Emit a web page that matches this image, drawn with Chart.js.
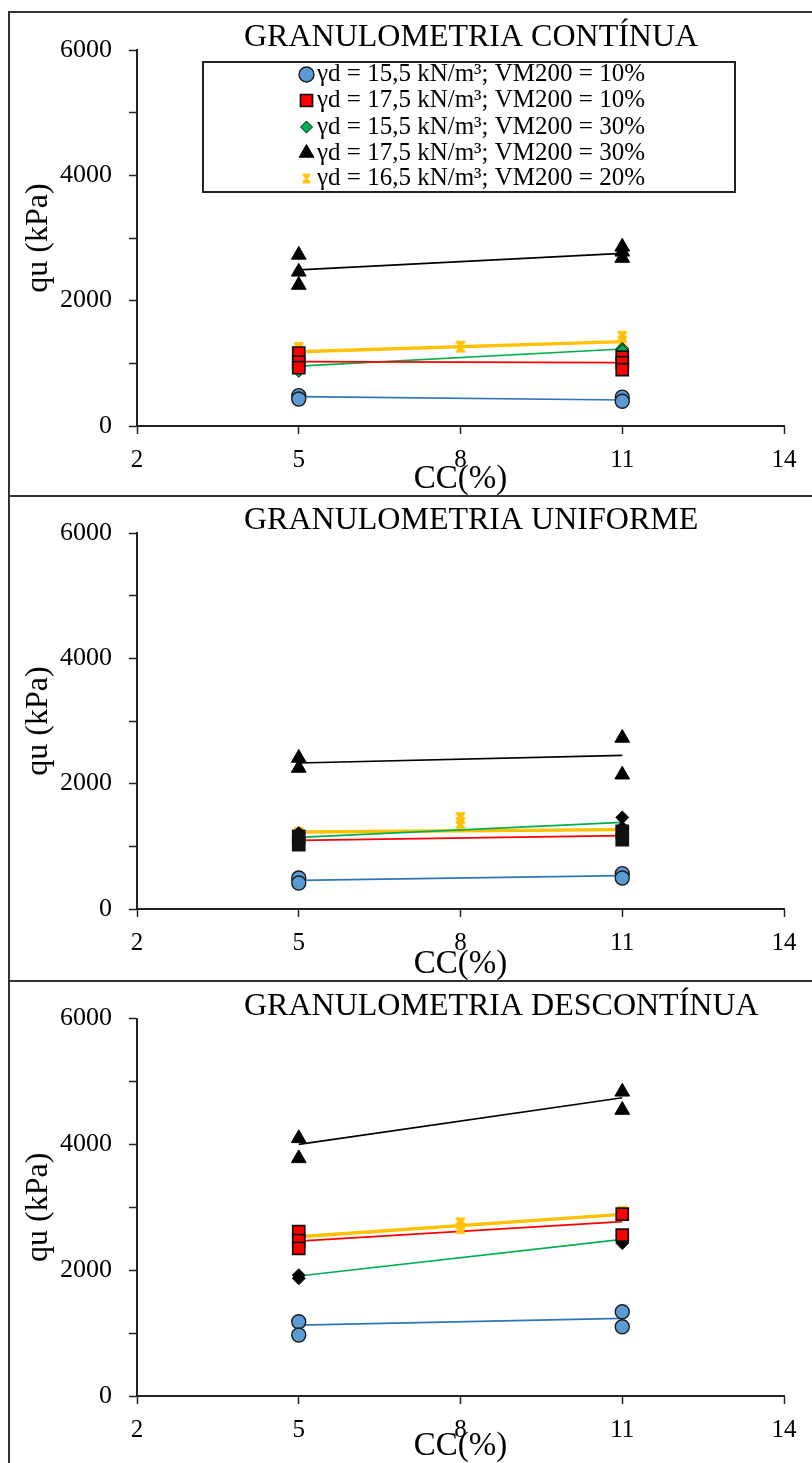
<!DOCTYPE html>
<html><head><meta charset="utf-8">
<script src="https://cdn.jsdelivr.net/npm/chart.js@4.4.0/dist/chart.umd.min.js"></script>
<style>
html,body{margin:0;padding:0;background:#fff;}
body{width:812px;height:1463px;position:relative;overflow:hidden;}
canvas{position:absolute;left:0;}
.ln{position:absolute;background:#333;}
</style></head><body>
<canvas id="c1" width="812" height="496" style="top:0px"></canvas>
<canvas id="c2" width="812" height="485" style="top:496px"></canvas>
<canvas id="c3" width="812" height="482" style="top:981px"></canvas>
<div class="ln" style="left:8px;top:11px;width:2px;height:1452px"></div>
<div class="ln" style="left:8px;top:11px;width:804px;height:2px"></div>
<div class="ln" style="left:8px;top:495px;width:804px;height:2px"></div>
<div class="ln" style="left:8px;top:980px;width:804px;height:2px"></div>
<script>
// ---- texts ----
const panelTitles = ['GRANULOMETRIA CONTÍNUA', 'GRANULOMETRIA UNIFORME', 'GRANULOMETRIA DESCONTÍNUA'];
const seriesLabels = [
  'γd = 15,5 kN/m³; VM200 = 10%',
  'γd = 17,5 kN/m³; VM200 = 10%',
  'γd = 15,5 kN/m³; VM200 = 30%',
  'γd = 17,5 kN/m³; VM200 = 30%',
  'γd = 16,5 kN/m³; VM200 = 20%'
];
const xAxisTitle = 'CC(%)';
const yAxisTitle = 'qu (kPa)';
const xTickValues = [2, 5, 8, 11, 14];
const yTickLabels = [0, 2000, 4000, 6000];

// CC levels where specimens were tested
const ccLevels = [5, 8, 11];
// trend lines span between these CC values
const trendCC = [5, 11];

// ---- GRANULOMETRIA CONTÍNUA: qu readings per CC level [CC=5, CC=8, CC=11] ----
const contBlue   = [[485, 430], [], [460, 395]];
const contRed    = [[1165, 1020, 930], [], [1100, 1010, 900]];
const contGreen  = [[960, 880], [], [1230, 1200]];
const contBlack  = [[2730, 2460, 2250], [], [2860, 2780, 2680]];
const contYellow = [[1245, 1190], [1266], [1425, 1345]];
const contTrends = [[468, 415], [1026, 1010], [957, 1229], [2490, 2756], [1186, 1346]];

// ---- GRANULOMETRIA UNIFORME ----
const unifBlue   = [[495, 415], [], [564, 495]];
const unifRed    = [[1159, 1026], [], [1239, 1106]];
const unifGreen  = [[1213, 1150], [], [1462, 1300]];
const unifBlack  = [[2410, 2250], [], [2729, 2143]];
const unifYellow = [[1213, 1159], [1452, 1372], [1239, 1186]];
const unifTrends = [[457, 532], [1095, 1170], [1143, 1382], [2330, 2452], [1229, 1266]];

// ---- GRANULOMETRIA DESCONTÍNUA ----
const descBlue   = [[1181, 969], [], [1340, 1101]];
const descRed    = [[2611, 2470, 2347], [], [2892, 2558]];
const descGreen  = [[1920, 1870], [], [2550, 2430]];
const descBlack  = [[4095, 3777], [], [4835, 4545]];
const descYellow = [[2585, 2479], [2744, 2670], [2929, 2876]];
const descTrends = [[1128, 1235], [2463, 2770], [1907, 2490], [4000, 4740], [2531, 2887]];

// ---------------------------------------------------------------
const FONT = '"Liberation Serif", "Times New Roman", serif';
Chart.defaults.font.family = FONT;
Chart.defaults.color = '#000';

// Excel-like "star" marker (X with caps), drawn as a small canvas point style
function makeStar(size, color, lw) {
  const c = document.createElement('canvas');
  c.width = size; c.height = size;
  const g = c.getContext('2d');
  g.strokeStyle = color; g.lineWidth = lw; g.lineCap = 'butt';
  const m = size / 2, r = size / 2 - lw / 2;
  g.beginPath();
  g.moveTo(m - r * 0.7, m - r); g.lineTo(m + r * 0.7, m + r);
  g.moveTo(m + r * 0.7, m - r); g.lineTo(m - r * 0.7, m + r);
  g.moveTo(m - r * 0.75, m - r + lw / 2); g.lineTo(m + r * 0.75, m - r + lw / 2);
  g.moveTo(m - r * 0.75, m + r - lw / 2); g.lineTo(m + r * 0.75, m + r - lw / 2);
  g.moveTo(m, m - r); g.lineTo(m, m + r);
  g.stroke();
  return c;
}
const starPlot = makeStar(14, '#FFC000', 2.6);
const starLegend = makeStar(12, '#FFC000', 2.4);

const markerStyles = [
  { pointStyle: 'circle',   radius: 7,   bg: '#5B9BD5', border: '#1a1a1a', bw: 1.4, legendR: 7.5 },
  { pointStyle: 'rect',     radius: 8.5, bg: '#FF0000', border: '#111',    bw: 1.7, legendR: 8.5 },
  { pointStyle: 'rectRot',  radius: 6.5, bg: '#00B050', border: '#111',    bw: 1,   legendR: 6 },
  { pointStyle: 'triangle', radius: 8.5, bg: '#000',    border: '#000',    bw: 1,   legendR: 8.5 },
  { pointStyle: starPlot,   radius: 7,   bg: 'rgba(0,0,0,0)', border: '#FFC000', bw: 0, legendR: 6, legendStyle: starLegend }
];
const trendStyles = [
  { color: '#2E75B6', width: 1.7 },
  { color: '#FF0000', width: 1.7 },
  { color: '#00B050', width: 1.7 },
  { color: '#000000', width: 1.7 },
  { color: '#FFC000', width: 3.4 }
];

function toPoints(levels) {
  const pts = [];
  levels.forEach((vals, j) => vals.forEach(v => pts.push({ x: ccLevels[j], y: v })));
  return pts;
}

const decor = {
  id: 'decor',
  afterDraw(chart, args, opts) {
    const ctx = chart.ctx, a = chart.chartArea;
    ctx.save();
    ctx.fillStyle = '#000';
    ctx.font = '32px ' + FONT;
    ctx.textBaseline = 'middle';
    ctx.textAlign = 'left';
    ctx.fillText(opts.title, 244, a.top - 12);
    if (opts.legend) {
      const bx = 203, by = 62, bw = 532, bh = 130;
      ctx.fillStyle = '#fff';
      ctx.fillRect(bx, by, bw, bh);
      ctx.lineWidth = 2;
      ctx.strokeStyle = '#222';
      ctx.strokeRect(bx, by, bw, bh);
      const rows = [74.5, 100.5, 127, 153, 178.5];
      seriesLabels.forEach((lab, i) => {
        const m = markerStyles[i];
        ctx.fillStyle = m.bg;
        ctx.strokeStyle = m.border;
        ctx.lineWidth = m.bw;
        Chart.helpers.drawPoint(ctx, { pointStyle: m.legendStyle || m.pointStyle, radius: m.legendR, rotation: 0, borderWidth: m.bw }, 306.5, rows[i]);
        ctx.fillStyle = '#000';
        ctx.font = '25px ' + FONT;
        ctx.textBaseline = 'middle';
        ctx.fillText(lab, 317, rows[i]);
      });
    }
    ctx.restore();
  }
};

function makeChart(id, title, series, trends, geom, overrides, showLegend) {
  const canvas = document.getElementById(id);
  const H = canvas.height;
  const datasets = [];
  series.forEach((levels, i) => {
    const m = markerStyles[i];
    const o = overrides[i] || {};
    datasets.push({
      label: seriesLabels[i],
      data: toPoints(levels),
      showLine: false,
      pointStyle: m.pointStyle,
      pointRadius: m.radius,
      pointBackgroundColor: o.bg || m.bg,
      pointBorderColor: o.border || m.border,
      pointBorderWidth: m.bw,
      clip: false
    });
  });
  trends.forEach((t, i) => {
    datasets.push({
      label: 'trend ' + i,
      data: [{ x: trendCC[0], y: t[0] }, { x: trendCC[1], y: t[1] }],
      showLine: true,
      pointRadius: 0,
      borderColor: trendStyles[i].color,
      borderWidth: trendStyles[i].width,
      clip: false
    });
  });
  return new Chart(canvas, {
    type: 'scatter',
    data: { datasets },
    options: {
      responsive: false,
      animation: false,
      devicePixelRatio: 1,
      layout: { padding: { left: 0, right: 28, top: geom.top, bottom: 0 } },
      plugins: {
        legend: { display: false },
        tooltip: { enabled: false },
        decor: { title, legend: showLegend }
      },
      scales: {
        x: {
          type: 'linear', min: xTickValues[0], max: xTickValues[xTickValues.length - 1],
          afterBuildTicks: s => { s.ticks = xTickValues.map(v => ({ value: v })); },
          ticks: { font: { size: 25, family: FONT }, color: '#000', padding: 11, maxRotation: 0, autoSkip: false },
          grid: { drawOnChartArea: false, drawTicks: true, tickLength: 8, tickColor: '#222', tickWidth: 1.5 },
          border: { display: true, color: '#222', width: 2 },
          title: { display: true, text: xAxisTitle, font: { size: 33, family: FONT, lineHeight: 1 }, padding: 0, color: '#000' },
          afterFit: s => { s.height = H - geom.bottom; }
        },
        y: {
          type: 'linear', min: 0, max: 6000,
          ticks: {
            stepSize: 1000, autoSkip: false, padding: 17,
            font: { size: 26, family: FONT }, color: '#000',
            callback: v => (yTickLabels.includes(v) ? String(v) : '')
          },
          grid: { drawOnChartArea: false, drawTicks: true, tickLength: 8, tickColor: '#222', tickWidth: 1.5 },
          border: { display: true, color: '#222', width: 2 },
          title: { display: true, text: yAxisTitle, font: { size: 32, family: FONT, lineHeight: 1 }, padding: { top: 23, bottom: 0 }, color: '#000' },
          afterFit: s => { s.width = 137; }
        }
      }
    },
    plugins: [decor]
  });
}

makeChart('c1', panelTitles[0], [contBlue, contRed, contGreen, contBlack, contYellow], contTrends,
  { top: 50, bottom: 426 }, [], true);
makeChart('c2', panelTitles[1], [unifBlue, unifRed, unifGreen, unifBlack, unifYellow], unifTrends,
  { top: 37, bottom: 413 }, [null, { bg: '#111' }, { bg: '#000' }], false);
makeChart('c3', panelTitles[2], [descBlue, descRed, descGreen, descBlack, descYellow], descTrends,
  { top: 37.5, bottom: 415 }, [null, null, { bg: '#000' }], false);
</script>
</body></html>
